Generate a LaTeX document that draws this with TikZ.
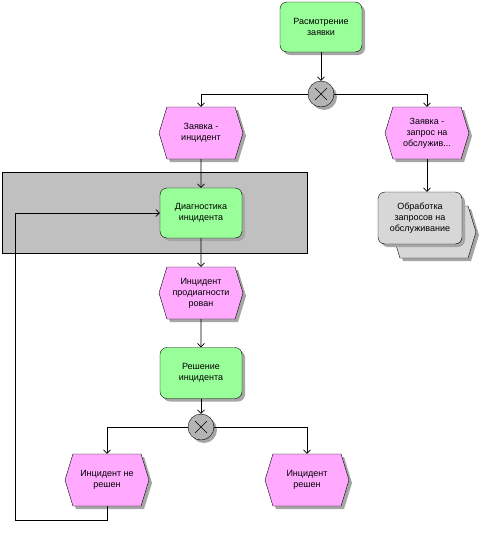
\documentclass[tikz,border=0pt]{standalone}
\usepackage{fontspec}
\setmainfont{Liberation Sans}
\usetikzlibrary{shapes.symbols,shadows,arrows.meta}
\definecolor{fgreen}{RGB}{153,255,153}
\definecolor{epink}{RGB}{255,170,255}
\definecolor{xgray}{RGB}{180,180,180}
\definecolor{grpgray}{RGB}{192,192,192}
\definecolor{pigray}{RGB}{215,215,215}
\tikzset{
  shad/.style={drop shadow={shadow xshift=3pt,shadow yshift=-3pt,fill=black!35,opacity=1}},
  txt/.style={font=\fontsize{9}{11}\selectfont,align=center,inner sep=1pt},
  func/.style={txt,shad,draw,rounded corners=7pt,fill=fgreen,minimum width=82pt,minimum height=50pt},
  evt/.style={txt,shad,draw,fill=epink,shape=signal,signal to=east and west,signal pointer angle=146,minimum width=84pt,minimum height=52pt},
  xorc/.style={shad,draw,circle,fill=xgray,minimum size=26pt,inner sep=0pt,
    path picture={\draw ([shift={(-6pt,-6pt)}]path picture bounding box.center) -- ([shift={(6pt,6pt)}]path picture bounding box.center);
                  \draw ([shift={(-6pt,6pt)}]path picture bounding box.center) -- ([shift={(6pt,-6pt)}]path picture bounding box.center);}},
  conn/.style={-{Straight Barb[length=3.5pt,width=7pt]},line width=0.6pt},
}
\begin{document}
\begin{tikzpicture}[x=1pt,y=-1pt]
\useasboundingbox (0,0) rectangle (494,536);
\fill[white] (0,0) rectangle (494,536);
% group rectangle
\node[draw,fill=grpgray,minimum width=305pt,minimum height=81pt,inner sep=0pt,line width=0.6pt] (grp) at (154.5,212.5) {};
% nodes
\node[func] (rass) at (321,27) {Расмотрение\\заявки};
\node[xorc] (xor1) at (321,94) {};
\node[evt] (zi) at (201,133) {Заявка -\\инцидент};
\node[evt] (zo) at (427,133) {Заявка -\\запрос на\\обслужив...};
\node[evt,fill=pigray] (obrback) at (434,232) {};
\node[func,fill=pigray,minimum width=84pt,minimum height=52pt] (obr) at (420,218) {Обработка\\запросов на\\обслуживание};
\node[func] (diag) at (201,213) {Диагностика\\инцидента};
\node[evt] (prod) at (201,293) {Инцидент\\продиагности\\рован};
\node[func,minimum height=51pt] (resh) at (201,373) {Решение\\инцидента};
\node[xorc] (xor2) at (201,427) {};
\node[evt] (nr) at (107,480) {Инцидент не\\решен};
\node[evt] (rn) at (307,480) {Инцидент\\решен};
\coordinate (lb) at (15,520);
\coordinate (lt) at (15,213);
% connectors
\draw[conn] (rass) -- (xor1);
\draw[conn] (xor1) -| (zi);
\draw[conn] (xor1) -| (zo);
\draw[conn] (zo.south) -- (zo.south |- obr.north);
\draw[conn] (zi) -- (diag);
\draw[conn] (diag) -- (prod);
\draw[conn] (prod) -- (resh);
\draw[conn] (resh) -- (xor2);
\draw[conn] (xor2) -| (nr);
\draw[conn] (xor2) -| (rn);
\draw[conn] (nr.south) |- (lb) -- (lt) -- (diag.west);
\end{tikzpicture}
\end{document}
